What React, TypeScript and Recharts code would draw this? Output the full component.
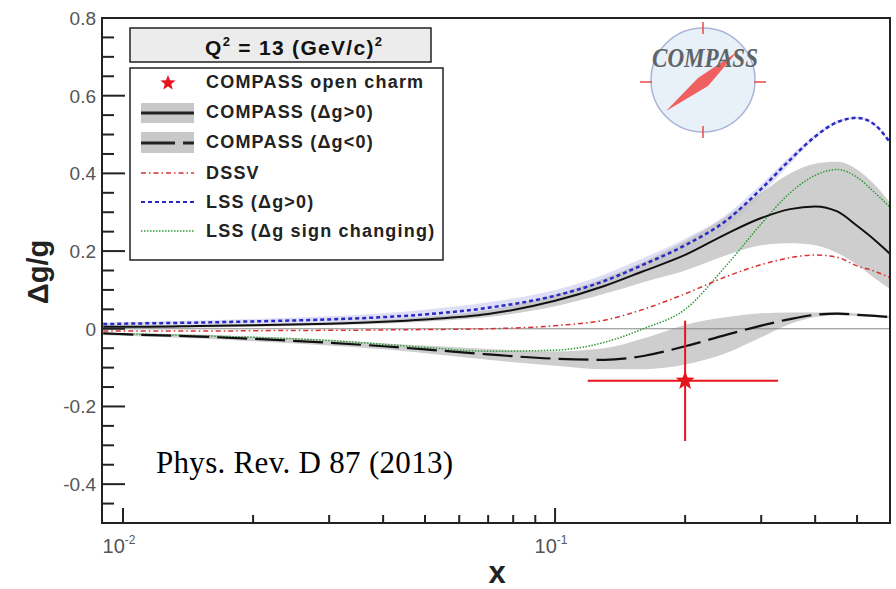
import { ComposedChart, Area, Line, Scatter, ErrorBar, XAxis, YAxis, ReferenceLine } from "recharts"

const xValues = [0.009, 0.01, 0.015, 0.02, 0.03, 0.04, 0.05, 0.07, 0.1, 0.13, 0.16, 0.2, 0.25, 0.3, 0.35, 0.4, 0.45, 0.5, 0.55, 0.6]

const compassPos = [0.005, 0.005, 0.007, 0.009, 0.013, 0.018, 0.024, 0.038, 0.072, 0.11, 0.148, 0.19, 0.245, 0.285, 0.308, 0.315, 0.302, 0.265, 0.228, 0.19]
const compassPosLow = [0.001, 0.001, 0.003, 0.005, 0.009, 0.013, 0.018, 0.03, 0.058, 0.09, 0.12, 0.15, 0.19, 0.215, 0.22, 0.215, 0.195, 0.165, 0.13, 0.1]
const compassPosHigh = [0.009, 0.009, 0.011, 0.013, 0.017, 0.023, 0.03, 0.048, 0.088, 0.13, 0.172, 0.225, 0.29, 0.35, 0.4, 0.425, 0.43, 0.41, 0.37, 0.32]

const compassNeg = [-0.012, -0.014, -0.02, -0.026, -0.036, -0.045, -0.053, -0.066, -0.077, -0.08, -0.07, -0.045, -0.015, 0.008, 0.025, 0.036, 0.039, 0.036, 0.033, 0.03]
const compassNegLow = [-0.016, -0.018, -0.025, -0.032, -0.043, -0.053, -0.063, -0.08, -0.095, -0.104, -0.104, -0.092, -0.062, -0.022, 0.012, 0.03, 0.035, 0.033, 0.03, 0.027]
const compassNegHigh = [-0.008, -0.01, -0.015, -0.02, -0.029, -0.037, -0.043, -0.052, -0.058, -0.05, -0.025, 0.01, 0.03, 0.04, 0.042, 0.042, 0.043, 0.039, 0.036, 0.033]

const dssv = [-0.006, -0.006, -0.006, -0.005, -0.004, -0.003, -0.002, 0.0, 0.008, 0.022, 0.05, 0.09, 0.135, 0.165, 0.183, 0.19, 0.184, 0.162, 0.148, 0.13]

const lssPos = [0.012, 0.013, 0.016, 0.019, 0.024, 0.03, 0.037, 0.054, 0.085, 0.123, 0.165, 0.215, 0.28, 0.36, 0.435, 0.495, 0.532, 0.543, 0.525, 0.475]
const lssPosLow = [0.008, 0.009, 0.011, 0.013, 0.016, 0.02, 0.025, 0.04, 0.07, 0.105, 0.148, 0.195, 0.262, 0.345, 0.425, 0.49, 0.528, 0.54, 0.522, 0.472]
const lssPosHigh = [0.016, 0.017, 0.021, 0.025, 0.032, 0.04, 0.049, 0.068, 0.1, 0.14, 0.182, 0.232, 0.295, 0.372, 0.445, 0.5, 0.536, 0.546, 0.528, 0.478]

const lssSign = [-0.012, -0.013, -0.018, -0.022, -0.03, -0.04, -0.048, -0.058, -0.055, -0.035, 0.0, 0.05, 0.165, 0.27, 0.35, 0.395, 0.41, 0.39, 0.35, 0.31]

// open charm point
const charmX = [0.2]
const charmY = [-0.134]
const charmXErr = [[0.081, 0.128]]
const charmYErr = [0.155]

const xTicks = [0.01, 0.02, 0.03, 0.04, 0.05, 0.06, 0.07, 0.08, 0.09, 0.1, 0.2, 0.3, 0.4, 0.5]
const yTicks = [-0.5, -0.45, -0.4, -0.35, -0.3, -0.25, -0.2, -0.15, -0.1, -0.05, 0, 0.05, 0.1, 0.15, 0.2, 0.25, 0.3, 0.35, 0.4, 0.45, 0.5, 0.55, 0.6, 0.65, 0.7, 0.75, 0.8]
const yLabels = [-0.4, -0.2, 0, 0.2, 0.4, 0.6, 0.8]
const xDecades = ["10", "10"]
const xDecadeExp = ["-2", "-1"]

const W = 896
const H = 589
const LEFT = 102
const TOP = 18
const RIGHT = 890
const BOTTOM = 523

const SANS = "'Liberation Sans', Arial, sans-serif"
const SERIF = "'Liberation Serif', 'Times New Roman', serif"

const rows = xValues.map((x, i) => ({
  x,
  pos: compassPos[i],
  posBand: [compassPosLow[i], compassPosHigh[i]],
  neg: compassNeg[i],
  negBand: [compassNegLow[i], compassNegHigh[i]],
  dssv: dssv[i],
  lss: lssPos[i],
  lssBand: [lssPosLow[i], lssPosHigh[i]],
  lssSign: lssSign[i],
}))

const charm = charmX.map((x, i) => ({ x, y: charmY[i], ex: charmXErr[i], ey: charmYErr[i] }))

function starPoints(cx: number, cy: number, R: number, r: number) {
  const pts: string[] = []
  for (let k = 0; k < 10; k++) {
    const a = -Math.PI / 2 + (k * Math.PI) / 5
    const rad = k % 2 === 0 ? R : r
    pts.push(`${cx + rad * Math.cos(a)},${cy + rad * Math.sin(a)}`)
  }
  return pts.join(" ")
}

const StarShape = (props: any) => (
  <polygon points={starPoints(props.cx, props.cy, 10, 4.2)} fill="#e8141c" />
)

const XTick = ({ x, payload }: any) => {
  const v = payload.value
  const idx = v === 0.01 ? 0 : v === 0.1 ? 1 : -1
  return (
    <g>
      <line x1={x} x2={x} y1={BOTTOM} y2={BOTTOM - (idx >= 0 ? 15 : 8)} stroke="#222" strokeWidth={2} />
      {idx >= 0 && (
        <text x={x - 4} y={553} textAnchor="middle" fontSize={20} fill="#555" fontFamily={SANS}>
          {xDecades[idx]}
          <tspan fontSize={12} dy={-9}>{xDecadeExp[idx]}</tspan>
        </text>
      )}
    </g>
  )
}

const YTick = ({ y, payload }: any) => {
  const v = payload.value
  const major = yLabels.some((l) => Math.abs(l - v) < 1e-6)
  return (
    <g>
      <line x1={LEFT} x2={LEFT + (major ? 23 : 12)} y1={y} y2={y} stroke="#222" strokeWidth={2} />
      {major && (
        <text x={96} y={y + 7} textAnchor="end" fontSize={19} fill="#555" fontFamily={SANS}>
          {v === 0 ? "0" : v.toFixed(1)}
        </text>
      )}
    </g>
  )
}

const legendItems = [
  { label: "COMPASS open charm", y: 88 },
  { label: "COMPASS (\u0394g>0)", y: 118 },
  { label: "COMPASS (\u0394g<0)", y: 148 },
  { label: "DSSV", y: 179 },
  { label: "LSS (\u0394g>0)", y: 208 },
  { label: "LSS (\u0394g sign changing)", y: 237 },
]

function Overlay() {
  return (
    <svg width={W} height={H} style={{ position: "absolute", left: 0, top: 0, pointerEvents: "none" }}>
      {/* frame */}
      <rect x={LEFT} y={TOP} width={RIGHT - LEFT} height={BOTTOM - TOP} fill="none" stroke="#222" strokeWidth={2} />

      {/* header box */}
      <rect x={130} y={28} width={301} height={34} fill="#ececec" stroke="#222" strokeWidth={1.5} />
      <text x={205} y={55} fontSize={21} fontWeight="bold" fill="#111" fontFamily={SANS} letterSpacing={1.3}>
        Q<tspan fontSize={13} dy={-9}>2</tspan>
        <tspan dy={9}> = 13 (GeV/c)</tspan>
        <tspan fontSize={13} dy={-9}>2</tspan>
      </text>

      {/* legend box */}
      <rect x={130} y={68} width={313} height={192} fill="#fff" stroke="#222" strokeWidth={1.5} />
      <polygon points={starPoints(168, 83, 8, 3.4)} fill="#e8141c" />
      <rect x={141} y={103} width={53} height={20} fill="#c8c8c8" />
      <line x1={141} x2={194} y1={113} y2={113} stroke="#222" strokeWidth={3} />
      <rect x={141} y={132} width={53} height={21} fill="#c8c8c8" />
      <line x1={141} x2={194} y1={143} y2={143} stroke="#222" strokeWidth={3} strokeDasharray="34 8" />
      <line x1={141} x2={194} y1={173} y2={173} stroke="#d83030" strokeWidth={1.5} strokeDasharray="5 3 1.5 3" />
      <line x1={141} x2={194} y1={202} y2={202} stroke="#2a2ac0" strokeWidth={2} strokeDasharray="4 3" />
      <line x1={141} x2={194} y1={231} y2={231} stroke="#2e9a3a" strokeWidth={1.5} strokeDasharray="1.5 1.5" />
      {legendItems.map((it) => (
        <text key={it.label} x={206} y={it.y} fontSize={18} fontWeight="bold" fill="#222" fontFamily={SANS} letterSpacing={1.2}>
          {it.label}
        </text>
      ))}

      {/* COMPASS logo */}
      <circle cx={703} cy={80} r={52} fill="#e8f0f8" stroke="#a8b4d8" strokeWidth={1.5} />
      <line x1={703} x2={703} y1={22} y2={34} stroke="#e84848" strokeWidth={1.5} />
      <line x1={703} x2={703} y1={126} y2={138} stroke="#e84848" strokeWidth={1.5} />
      <line x1={640} x2={652} y1={82} y2={82} stroke="#e84848" strokeWidth={1.5} />
      <line x1={754} x2={766} y1={82} y2={82} stroke="#e84848" strokeWidth={1.5} />
      <polygon points="666,111 698,78 737,52 708,86" fill="#f06060" />
      <text x={652} y={67} fontSize={27} fontWeight="bold" fontStyle="italic" fill="#5f6468" fontFamily={SERIF} textLength={106} lengthAdjust="spacingAndGlyphs">
        COMPASS
      </text>

      {/* reference note */}
      <text x={156} y={473} fontSize={31} fill="#000" fontFamily={SERIF} letterSpacing={0.3}>
        Phys. Rev. D 87 (2013)
      </text>

      {/* axis titles */}
      <text x={0} y={0} transform="translate(48,272) rotate(-90)" textAnchor="middle" fontSize={29} fontWeight="bold" fill="#222" fontFamily={SANS}>
        {"\u0394g/g"}
      </text>
      <text x={497} y={583} textAnchor="middle" fontSize={31} fontWeight="bold" fill="#222" fontFamily={SANS}>
        x
      </text>
    </svg>
  )
}

export default function App() {
  return (
    <div style={{ position: "absolute", left: 0, top: 0, width: W, height: H, background: "#fff" }}>
      <ComposedChart width={W} height={H} data={rows} margin={{ top: TOP, right: W - RIGHT, bottom: 0, left: 0 }}>
        <XAxis
          dataKey="x"
          type="number"
          scale="log"
          domain={[0.00894, 0.596]}
          allowDataOverflow
          ticks={xTicks}
          interval={0}
          height={H - BOTTOM}
          tick={<XTick />}
          tickLine={false}
          axisLine={false}
        />
        <YAxis
          type="number"
          domain={[-0.5, 0.8]}
          allowDataOverflow
          ticks={yTicks}
          interval={0}
          width={LEFT}
          tick={<YTick />}
          tickLine={false}
          axisLine={false}
        />
        <Area dataKey="lssBand" type="monotone" stroke="none" fill="#c8c8f0" fillOpacity={0.6} isAnimationActive={false} />
        <Area dataKey="posBand" type="monotone" stroke="none" fill="#bdbdbd" fillOpacity={0.75} isAnimationActive={false} />
        <Area dataKey="negBand" type="monotone" stroke="none" fill="#bdbdbd" fillOpacity={0.75} isAnimationActive={false} />
        <ReferenceLine y={0} stroke="#888" strokeWidth={1} />
        <Line dataKey="lssSign" type="monotone" stroke="#2e9a3a" strokeWidth={1.5} strokeDasharray="1.5 1.5" dot={false} isAnimationActive={false} />
        <Line dataKey="dssv" type="monotone" stroke="#d83030" strokeWidth={1.5} strokeDasharray="5 3 1.5 3" dot={false} isAnimationActive={false} />
        <Line dataKey="neg" type="monotone" stroke="#111" strokeWidth={2.2} strokeDasharray="30 8" dot={false} isAnimationActive={false} />
        <Line dataKey="pos" type="monotone" stroke="#111" strokeWidth={2} dot={false} isAnimationActive={false} />
        <Line dataKey="lss" type="monotone" stroke="#2a2ac0" strokeWidth={2.5} strokeDasharray="4 3" dot={false} isAnimationActive={false} />
        <Scatter data={charm} dataKey="y" shape={<StarShape />} isAnimationActive={false}>
          <ErrorBar dataKey="ex" direction="x" width={0} stroke="#e8141c" strokeWidth={2} isAnimationActive={false} />
          <ErrorBar dataKey="ey" direction="y" width={0} stroke="#e8141c" strokeWidth={2} isAnimationActive={false} />
        </Scatter>
      </ComposedChart>
      <Overlay />
    </div>
  )
}
